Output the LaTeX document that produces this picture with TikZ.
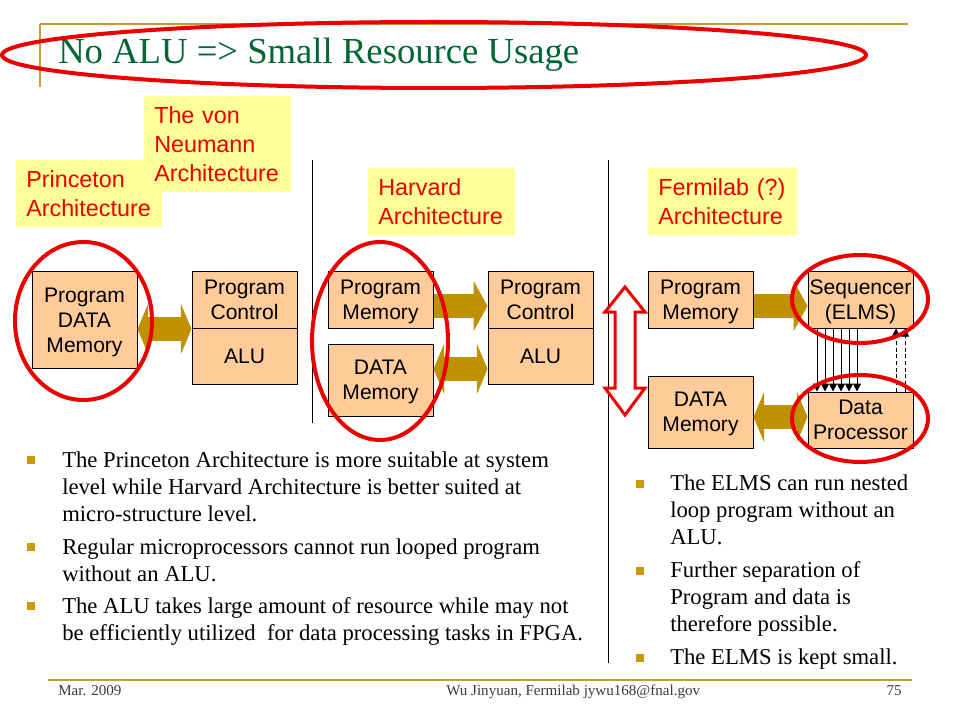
\documentclass[tikz,border=0pt]{standalone}
\usepackage{fontspec}
\setmainfont{Liberation Serif}
\newfontfamily\arialf{Liberation Sans}
\usetikzlibrary{arrows.meta,calc}
\definecolor{goldline}{RGB}{198,156,52}
\definecolor{boxfill}{RGB}{255,204,153}
\definecolor{labelfill}{RGB}{255,255,153}
\definecolor{hired}{RGB}{235,0,0}
\definecolor{arrowgold}{RGB}{191,144,0}
\definecolor{bulletgold}{RGB}{204,153,0}
\definecolor{titlegreen}{RGB}{0,102,51}
\definecolor{footgray}{RGB}{60,60,60}
\tikzset{
  archbox/.style={draw=black, line width=0.75pt, fill=boxfill, align=center, inner sep=0pt,
    minimum width=78.75pt, minimum height=42pt, text depth=0pt, font=\arialf\fontsize{15.8}{18.75}\selectfont},
  archlabel/.style={fill=labelfill, text=hired, align=left, anchor=north west, inner xsep=7.5pt, inner ysep=0pt,
    font=\arialf\fontsize{17.5}{21.75}\selectfont},
  redring/.style={draw=hired, line width=3pt},
  goldrule/.style={draw=goldline, line width=1.6pt},
  sepline/.style={draw=black, line width=0.75pt},
  busone/.style={draw=arrowgold, line width=18pt, -{Triangle[length=10.5pt,width=38pt,line width=0pt]}},
  bustwo/.style={draw=arrowgold, line width=18pt, {Triangle[length=8pt,width=38pt,line width=0pt]}-{Triangle[length=8pt,width=38pt,line width=0pt]}},
  ctrl/.style={draw=black, line width=0.75pt, -{Triangle[length=6pt,width=6pt]}},
  feedback/.style={ctrl, dash pattern=on 3pt off 2pt},
  bullettext/.style={anchor=base west, inner sep=0pt, font=\fontsize{17}{20.25}\selectfont},
  foottext/.style={inner sep=0pt, text=footgray, font=\fontsize{11.3}{13}\selectfont},
  bulletmark/.style={fill=bulletgold},
}
\begin{document}
\begin{tikzpicture}[x=0.75pt,y=-0.75pt]
\path[use as bounding box] (0,0) rectangle (960,720);
\fill[white] (0,0) rectangle (960,720);
% header
\draw[goldrule] (40,24) -- (908,24);
\draw[goldrule] (40,24) -- (40,87);
\node[anchor=base west, inner sep=0pt, text=titlegreen, font=\fontsize{27.5}{33}\selectfont] (title) at (58,64) {No ALU => Small Resource Usage};
% labels
\node[archlabel, text width=94.5pt, minimum height=50.25pt] (lprin) at (16,160) {Princeton\\Architecture};
\node[archlabel, text width=95.25pt, minimum height=72pt] (lvon) at (144,96) {The von\\Neumann\\Architecture};
\node[archlabel, text width=95.25pt, minimum height=50.25pt] (lharv) at (368,168) {Harvard\\Architecture};
\node[archlabel, text width=96.75pt, minimum height=50.25pt] (lferm) at (648,168) {Fermilab (?)\\Architecture};
% separators
\draw[sepline] (312.5,160) -- (312.5,423);
\draw[sepline] (608,160) -- (608,663);
% Princeton
\node[archbox, minimum height=72pt] (pdm) at (84.5,320) {Program\\DATA\\Memory};
\node[archbox] (ppc) at (244.5,300) {Program\\Control};
\node[archbox] (pal) at (244.5,356) {ALU};
% Harvard
\node[archbox] (hpm) at (380.5,300) {Program\\Memory};
\node[archbox, minimum height=54pt] (hdm) at (380.5,380) {DATA\\Memory};
\node[archbox] (hpc) at (540.5,300) {Program\\Control};
\node[archbox] (hal) at (540.5,356) {ALU};
% Fermilab
\node[archbox] (fpm) at (700.5,300) {Program\\Memory};
\node[archbox, minimum height=54pt] (fdm) at (700.5,412) {DATA\\Memory};
\node[archbox] (fsq) at (860.5,300) {Sequencer\\(ELMS)};
\node[archbox] (fdp) at (860.5,420) {Data\\Processor};
% gold buses
\draw[bustwo] (pdm.east |- 0,329) -- (pal.west |- 0,329);
\draw[busone] (hpm.east |- 0,306) -- (hpc.west |- 0,306);
\draw[bustwo] (hdm.east |- 0,369) -- (hal.west |- 0,369);
\draw[busone] (fpm.east |- 0,306) -- (fsq.west |- 0,306);
\draw[bustwo] (fdm.east |- 0,417) -- (fdp.west |- 0,417);
% control lines
\foreach \xx in {817,825,833,841,849,857}
  \draw[ctrl] (fsq.south -| \xx,0) -- (fdp.north -| \xx,0);
\foreach \xx in {896,905}
  \draw[feedback] (fdp.north -| \xx,0) -- (fsq.south -| \xx,0);
% red separation arrow
\draw[hired, line width=2.25pt, fill=white, line join=miter]
  (625,287) -- (645,312) -- (635,312) -- (635,388) -- (645,388) -- (625,415)
  -- (605,388) -- (615,388) -- (615,312) -- (605,312) -- cycle;
% red rings
\draw[redring] (434,55) ellipse [x radius=324pt, y radius=24.75pt];
\draw[redring] (83.5,321) ellipse [x radius=51.4pt, y radius=59.25pt];
\draw[redring] (380,341) ellipse [x radius=51pt, y radius=74.25pt];
\draw[redring] (860,299) ellipse [x radius=51pt, y radius=33pt];
\draw[redring] (860,418.5) ellipse [x radius=51pt, y radius=32.6pt];
% left bullets
\fill[bulletmark] (27,456) rectangle (35,464);
\node[bullettext] (la1) at (62,467) {The Princeton Architecture is more suitable at system};
\node[bullettext] (la2) at (62,494) {level while Harvard Architecture is better suited at};
\node[bullettext] (la3) at (62,521) {micro-structure level.};
\fill[bulletmark] (27,543) rectangle (35,551);
\node[bullettext] (lb1) at (62,554) {Regular microprocessors cannot run looped program};
\node[bullettext] (lb2) at (62,581) {without an ALU.};
\fill[bulletmark] (27,602) rectangle (35,610);
\node[bullettext] (lc1) at (62,613) {The ALU takes large amount of resource while may not};
\node[bullettext] (lc2) at (62,640) {be efficiently utilized\ \ for data processing tasks in FPGA.};
% right bullets
\fill[bulletmark] (636,480) rectangle (644,488);
\node[bullettext] (ra1) at (670,490) {The ELMS can run nested};
\node[bullettext] (ra2) at (670,517) {loop program without an};
\node[bullettext] (ra3) at (670,544) {ALU.};
\fill[bulletmark] (636,567) rectangle (644,575);
\node[bullettext] (rb1) at (670,577) {Further separation of};
\node[bullettext] (rb2) at (670,604) {Program and data is};
\node[bullettext] (rb3) at (670,631) {therefore possible.};
\fill[bulletmark] (636,654) rectangle (644,662);
\node[bullettext] (rc1) at (670,664) {The ELMS is kept small.};
% footer
\draw[goldrule] (48,680) -- (912,680);
\node[foottext, anchor=base west] (fdate) at (58,695) {Mar. 2009};
\node[foottext, anchor=base west] (fauthor) at (446,695) {Wu Jinyuan, Fermilab jywu168@fnal.gov};
\node[foottext, anchor=base east] (fpage) at (902,695) {75};
\end{tikzpicture}
\end{document}
